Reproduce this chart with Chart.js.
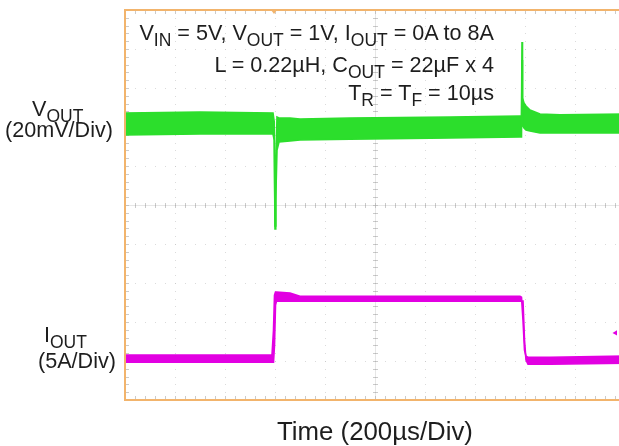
<!DOCTYPE html>
<html><head><meta charset="utf-8">
<script src="https://cdn.jsdelivr.net/npm/chart.js@4.4.1/dist/chart.umd.min.js"></script>
<style>
html,body{margin:0;padding:0;background:#fff;overflow:hidden;width:619px;height:446px;}
#wrap{position:relative;width:640px;height:446px;font-family:"Liberation Sans",Arial,sans-serif;color:#1e1e1e;}
canvas{position:absolute;left:0;top:0;}
.t{position:absolute;white-space:nowrap;line-height:21px;font-size:21.6px;}
.s{font-size:17.5px;position:relative;top:6px;}
</style></head><body>
<div id="wrap">
<canvas id="c" width="640" height="446"></canvas>
<div class="t" style="right:146px;top:22px;text-align:right">V<span class="s">IN</span> = 5V, V<span class="s">OUT</span> = 1V, I<span class="s">OUT</span> = 0A to 8A</div>
<div class="t" style="right:146px;top:54px;text-align:right">L = 0.22µH, C<span class="s">OUT</span> = 22µF x 4</div>
<div class="t" style="right:146px;top:82px;text-align:right">T<span class="s">R</span> = T<span class="s">F</span> = 10µs</div>
<div class="t" style="left:32px;top:98px;">V<span class="s">OUT</span></div>
<div class="t" style="left:5px;top:119px;">(20mV/Div)</div>
<div class="t" style="left:44px;top:324px;">I<span class="s">OUT</span></div>
<div class="t" style="left:38px;top:350px;">(5A/Div)</div>
<div class="t" style="left:0;width:750px;top:418px;font-size:25.8px;line-height:26px;text-align:center;">Time (200µs/Div)</div>
</div>
<script>
// Time base: µs (200 µs/div, 10 divisions)
const xTicks = [0,200,400,600,800,1000,1200,1400,1600,1800,2000];
// VOUT channel: mV deviation (20 mV/div)
const vTicks = [-140,-120,-100,-80,-60,-40,-20,0,20,40,60];
// IOUT channel: A (5 A/div)
const iRange = [-5.3, 44.7];

// VOUT noise envelope (upper / lower edge of the green trace), mV
const vTime  = [0, 300, 592, 597, 600, 603, 608, 616, 660, 700, 900, 1300, 1580, 1586, 1588, 1590, 1596, 1604, 1620, 1660, 1740, 2000];
const vUpper = [7.2, 7.7, 7.2, 2.6, -50.8, -22.1, 5.1, 4.6, 4.6, 4.1, 4.6, 5.1, 5.6, 5.6, 43.6, 14.9, 12.3, 10.8, 8.7, 6.7, 6.2, 6.7];
const vLower = [-4.1, -3.6, -3.6, -6.7, -52.3, -37.4, -11.8, -7.7, -7.2, -6.7, -6.2, -5.6, -5.1, -5.1, 34.4, 1.0, -0.5, -1.5, -2.1, -3.1, -3.1, -3.1];

// IOUT envelope (upper / lower edge of the magenta trace), A
const iTime  = [0, 588, 594, 598, 602, 606, 660, 700, 1100, 1580, 1586, 1592, 1598, 1604, 1612, 1700, 2000];
const iUpper = [0.45, 0.45, 3.65, 8.14, 8.53, 8.53, 8.40, 8.01, 8.01, 8.01, 7.88, 4.94, 1.09, 0.32, 0.19, 0.19, 0.32];
const iLower = [-0.45, -0.45, -0.45, 1.73, 6.86, 7.37, 7.37, 7.37, 7.37, 7.37, 7.37, 7.37, 2.38, -0.19, -0.71, -0.71, -0.58];

// Markers: trigger position (time, µs) and trigger level (A)
const trigTime = [596];
const trigLevelT = [1962];
const trigLevelA = [3.3];

const GREEN = 'rgb(44,222,44)';
const MAG = 'rgb(226,0,226)';
const ORANGE = 'rgb(242,180,108)';
const GRID = 'rgba(190,190,190,0.55)';

const pts = (t, v) => t.map((x, k) => ({x, y: v[k]}));

const scopeGrid = {
  id: 'scopeGrid',
  beforeDatasetsDraw(chart) {
    const {ctx, chartArea: a, scales} = chart;
    const xs = scales.x, ys = scales.yv;
    const xStep = xTicks[1] - xTicks[0], yStep = vTicks[1] - vTicks[0];
    const xMinor = xStep / 5, yMinor = yStep / 5;
    const x0 = xTicks[0], x1 = xTicks[xTicks.length - 1];
    const y0 = vTicks[0], y1 = vTicks[vTicks.length - 1];
    const xc = xTicks[5], yc = vTicks[5];
    ctx.save();
    ctx.fillStyle = GRID;
    xTicks.forEach(t => {
      const px = Math.round(xs.getPixelForValue(t));
      for (let m = y0; m <= y1 + 1e-6; m += yMinor) {
        const py = Math.round(ys.getPixelForValue(m));
        ctx.fillRect(px, py, 1, 1);
      }
    });
    vTicks.forEach(v => {
      const py = Math.round(ys.getPixelForValue(v));
      for (let t = x0; t <= x1 + 1e-6; t += xMinor) {
        const px = Math.round(xs.getPixelForValue(t));
        ctx.fillRect(px, py, 1, 1);
      }
    });
    ctx.strokeStyle = 'rgba(200,200,200,0.45)';
    ctx.lineWidth = 1;
    const cx = Math.round(xs.getPixelForValue(xc)) + 0.5;
    const cy = Math.round(ys.getPixelForValue(yc)) + 0.5;
    ctx.beginPath();
    ctx.moveTo(a.left, cy); ctx.lineTo(a.right, cy);
    ctx.moveTo(cx, a.top); ctx.lineTo(cx, a.bottom);
    ctx.stroke();
    ctx.strokeStyle = 'rgba(175,175,175,0.65)';
    ctx.beginPath();
    for (let t = x0; t <= x1 + 1e-6; t += xMinor) {
      const px = Math.round(xs.getPixelForValue(t)) + 0.5;
      ctx.moveTo(px, cy - 2.5); ctx.lineTo(px, cy + 2.5);
      ctx.moveTo(px, a.top); ctx.lineTo(px, a.top + 4);
      ctx.moveTo(px, a.bottom); ctx.lineTo(px, a.bottom - 4);
    }
    for (let m = y0; m <= y1 + 1e-6; m += yMinor) {
      const py = Math.round(ys.getPixelForValue(m)) + 0.5;
      ctx.moveTo(cx - 2.5, py); ctx.lineTo(cx + 2.5, py);
      ctx.moveTo(a.left, py); ctx.lineTo(a.left + 4, py);
    }
    ctx.stroke();
    ctx.restore();
  },
  afterDatasetsDraw(chart) {
    const {ctx, chartArea: a, scales} = chart;
    ctx.save();
    ctx.strokeStyle = ORANGE;
    ctx.lineWidth = 2;
    ctx.strokeRect(a.left, a.top, a.right - a.left, a.bottom - a.top);
    ctx.fillStyle = ORANGE;
    trigTime.forEach(t => {
      const px = scales.x.getPixelForValue(t);
      ctx.beginPath();
      ctx.moveTo(px - 3, a.top); ctx.lineTo(px + 3, a.top); ctx.lineTo(px, a.top + 4);
      ctx.closePath(); ctx.fill();
    });
    ctx.restore();
  }
};

const ds = (label, data, axis, color, fill) => ({
  label, data, yAxisID: axis, borderColor: color, backgroundColor: color,
  borderWidth: 1.6, pointRadius: 0, tension: 0, fill: fill
});

new Chart(document.getElementById('c'), {
  type: 'line',
  data: {
    datasets: [
      ds('VOUT upper', pts(vTime, vUpper), 'yv', GREEN, false),
      ds('VOUT lower', pts(vTime, vLower), 'yv', GREEN, '-1'),
      ds('IOUT upper', pts(iTime, iUpper), 'yi', MAG, false),
      ds('IOUT lower', pts(iTime, iLower), 'yi', MAG, '-1'),
      {
        label: 'Trigger level', type: 'scatter', yAxisID: 'yi',
        data: pts(trigLevelT, trigLevelA), pointStyle: 'triangle', rotation: -90,
        pointRadius: 3, backgroundColor: MAG, borderColor: MAG, borderWidth: 0
      }
    ]
  },
  options: {
    responsive: false, animation: false, events: [],
    layout: {padding: {left: 125, top: 10, right: 15, bottom: 46}},
    plugins: {legend: {display: false}, tooltip: {enabled: false}},
    scales: {
      x: {type: 'linear', display: false, min: xTicks[0], max: xTicks[xTicks.length - 1]},
      yv: {type: 'linear', display: false, min: vTicks[0], max: vTicks[vTicks.length - 1]},
      yi: {type: 'linear', display: false, min: iRange[0], max: iRange[1]}
    }
  },
  plugins: [scopeGrid]
});
</script>
</body></html>
